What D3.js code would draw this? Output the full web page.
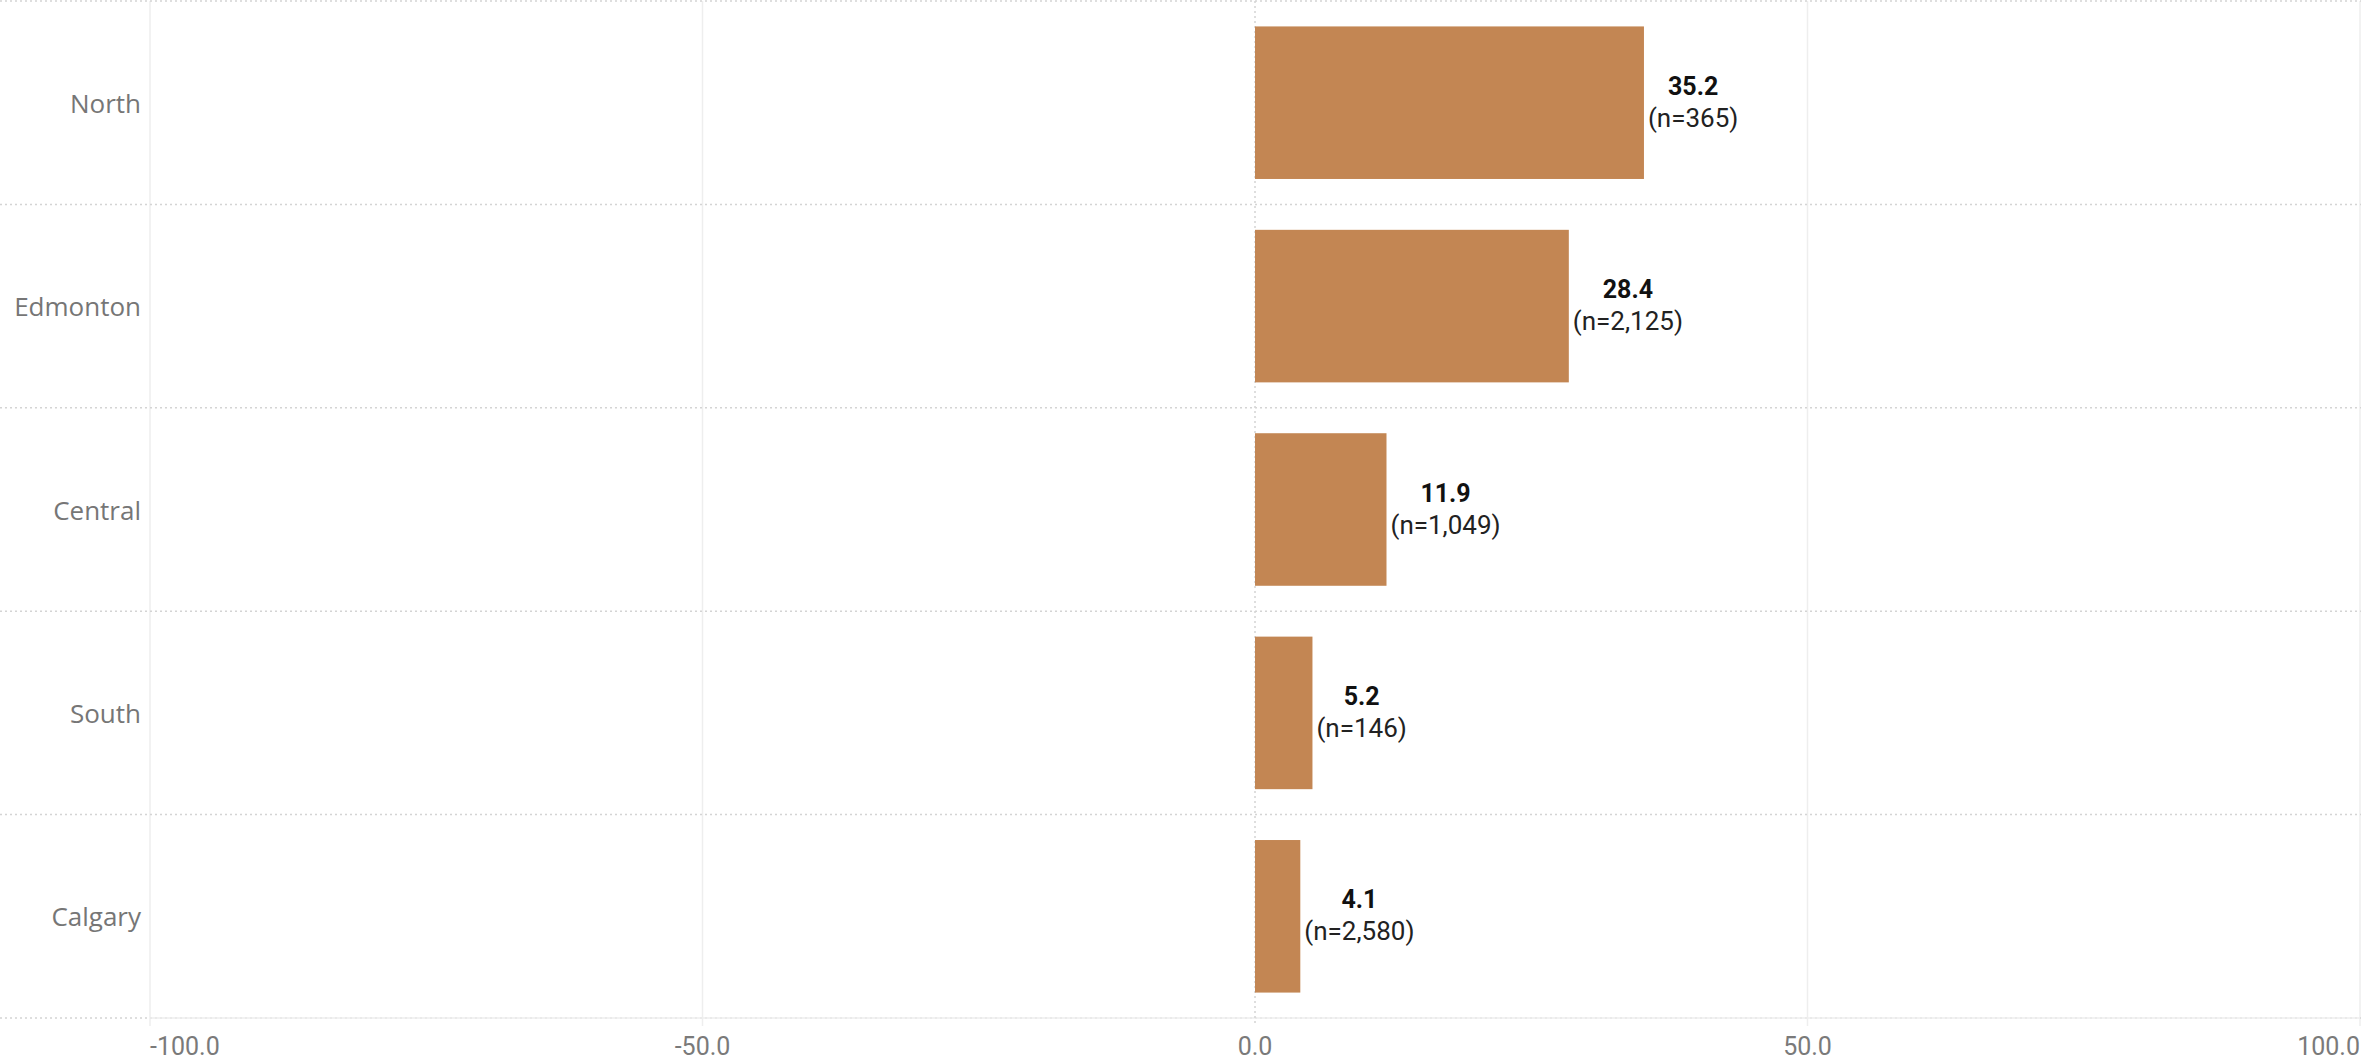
<!DOCTYPE html>
<html>
<head>
<meta charset="utf-8">
<script src="https://cdn.jsdelivr.net/npm/d3@7"></script>
<style>
  html, body { margin: 0; padding: 0; background: #ffffff; }
  svg { display: block; }
</style>
</head>
<body>
<svg id="chart" width="2361" height="1063"></svg>
<script>
// Regional values with sample sizes
const regions = ["North", "Edmonton", "Central", "South", "Calgary"];
const values = [35.2, 28.4, 11.9, 5.2, 4.1];
const sampleSizes = ["365", "2,125", "1,049", "146", "2,580"];
const xTicks = [-100, -50, 0, 50, 100];

const W = 2361, H = 1063;
const plotLeft = 150, plotRight = 2360, plotTop = 1, plotBottom = 1018;

const svg = d3.select("#chart");

const x = d3.scaleLinear().domain([-100, 100]).range([plotLeft, plotRight]);
const y = d3.scaleBand().domain(regions).range([plotTop, plotBottom])
  .paddingInner(0.25).paddingOuter(0.125);

// Plain hyphen for negative numbers
const fmt = d3.formatLocale({ decimal: ".", thousands: ",", grouping: [3], currency: ["", ""], minus: "-" }).format(".1f");

const catFont = "'Open Sans', 'Noto Sans', sans-serif";
const numFont = "Roboto, 'Liberation Sans', sans-serif";

// Vertical gridlines (solid, except the dotted zero line)
svg.append("g").selectAll("line")
  .data(xTicks.filter(t => t !== 0))
  .join("line")
  .attr("x1", d => x(d)).attr("x2", d => x(d))
  .attr("y1", plotTop).attr("y2", plotBottom + 8)
  .attr("stroke", "#eeeeee").attr("stroke-width", 1.5);

// Row separators, dotted, across the full width
const step = y.step();
const sepY = d3.range(regions.length + 1).map(i => plotTop + i * step);
svg.append("g").selectAll("line")
  .data(sepY)
  .join("line")
  .attr("x1", 0).attr("x2", W)
  .attr("y1", d => d).attr("y2", d => d)
  .attr("stroke", "#d4d4d4").attr("stroke-width", 1.5)
  .attr("stroke-dasharray", "2,3");

// Solid baseline of the x axis over the plot area
svg.append("line")
  .attr("x1", plotLeft).attr("x2", plotRight)
  .attr("y1", plotBottom).attr("y2", plotBottom)
  .attr("stroke", "#eeeeee").attr("stroke-width", 1.5);

// Dotted zero line
svg.append("line")
  .attr("x1", x(0)).attr("x2", x(0))
  .attr("y1", plotTop).attr("y2", plotBottom + 8)
  .attr("stroke", "#d4d4d4").attr("stroke-width", 1.5)
  .attr("stroke-dasharray", "2,3");

// Bars
svg.append("g").selectAll("rect")
  .data(regions)
  .join("rect")
  .attr("x", x(0))
  .attr("y", d => y(d))
  .attr("width", (d, i) => x(values[i]) - x(0))
  .attr("height", y.bandwidth())
  .attr("fill", "#c38653");

// Category labels
svg.append("g").selectAll("text")
  .data(regions)
  .join("text")
  .attr("x", 141)
  .attr("y", d => y(d) + y.bandwidth() / 2 + 10)
  .attr("text-anchor", "end")
  .attr("font-family", catFont)
  .attr("font-size", 26)
  .attr("fill", "#767676")
  .text(d => d);

// Value labels: bold value over the sample size, as a centred block after the bar
const labels = svg.append("g").selectAll("g")
  .data(regions)
  .join("g");

labels.each(function(d, i) {
  const g = d3.select(this);
  const cy = y(d) + y.bandwidth() / 2;
  const v = g.append("text")
    .attr("y", cy - 8)
    .attr("text-anchor", "middle")
    .attr("font-family", numFont)
    .attr("font-weight", 700)
    .attr("font-size", 25)
    .attr("fill", "#111111")
    .text(fmt(values[i]));
  const n = g.append("text")
    .attr("y", cy + 24)
    .attr("text-anchor", "middle")
    .attr("font-family", numFont)
    .attr("font-size", 26)
    .attr("fill", "#222222")
    .text(`(n=${sampleSizes[i]})`);
  const w = Math.max(v.node().getComputedTextLength(), n.node().getComputedTextLength());
  const cx = x(values[i]) + 4 + w / 2;
  v.attr("x", cx);
  n.attr("x", cx);
});

// X axis tick labels, end labels kept inside the plot
svg.append("g").selectAll("text")
  .data(xTicks)
  .join("text")
  .attr("x", d => x(d))
  .attr("y", 1055)
  .attr("text-anchor", (d, i) => i === 0 ? "start" : (i === xTicks.length - 1 ? "end" : "middle"))
  .attr("font-family", numFont)
  .attr("font-size", 25)
  .attr("fill", "#7a7a7a")
  .text(d => fmt(d));
</script>
</body>
</html>
